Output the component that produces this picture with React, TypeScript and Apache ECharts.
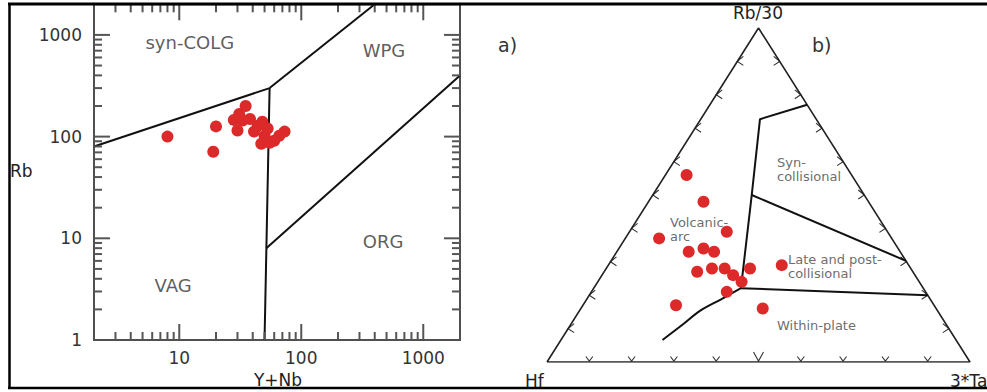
import React, { useEffect, useRef } from 'react';
import * as echarts from 'echarts';

const FONT = '"DejaVu Sans", "Liberation Sans", sans-serif';
const RED = '#dc2a2a';
const AXIS = '#505050';
const TICK = '#555555';
const LINE = '#111111';

// ---------- Left panel: Rb vs Y+Nb (log-log) ----------
const X_MIN = 2;
const X_MAX = 2000;
const Y_MIN = 1;
const Y_MAX = 2000;

const yNbValues = [8, 20, 19, 35, 31, 28, 38, 30, 33, 48, 41, 50, 55, 47, 66, 73, 60, 53, 44];
const rbValues = [100, 126, 71, 200, 167, 146, 149, 115, 144, 140, 112, 102, 87, 85, 102, 112, 91, 120, 128];

const xTickValues = [3, 4, 5, 6, 7, 8, 9, 10, 20, 30, 40, 50, 60, 70, 80, 90, 100, 200, 300, 400, 500, 600, 700, 800, 900, 1000];
const yTickValues = [2, 3, 4, 5, 6, 7, 8, 9, 10, 20, 30, 40, 50, 60, 70, 80, 90, 100, 200, 300, 400, 500, 600, 700, 800, 900, 1000];
const xLabelValues = [10, 100, 1000];
const yLabelValues = [1, 10, 100, 1000];

const vagSyncolgLine = [[2, 80], [55, 300]];
const syncolgWpgLine = [[55, 300], [400, 2000]];
const vagWpgLine = [[50, 1], [55, 300]];
const wpgOrgLine = [[51.7, 8], [2000, 400]];

const leftFieldNames = ['syn-COLG', 'WPG', 'ORG', 'VAG'];
const leftFieldX = [12.2, 476, 468, 8.9];
const leftFieldY = [833, 695, 9.2, 3.4];

// ---------- Right panel: ternary Hf - Rb/30 - 3*Ta ----------
const hfValues = [39, 39, 38, 55, 50, 46, 44, 51, 47, 44, 43, 42, 47, 38, 30, 61, 41];
const rb30Values = [56, 48, 39, 37, 33, 34, 33, 27, 28, 28, 26, 24, 21, 28, 29, 17, 16];
const ta3Values = [5, 13, 23, 8, 17, 20, 23, 22, 25, 28, 31, 34, 32, 34, 41, 22, 43];

const ternTickFractions = [0.1, 0.2, 0.3, 0.4, 0.5, 0.6, 0.7, 0.8, 0.9];

// boundaries as [Hf, Rb/30, 3*Ta]
const triangleOutline = [[100, 0, 0], [0, 0, 100], [0, 100, 0], [100, 0, 0]];
const synColBoundary = [[0, 77, 23], [13.3, 72.7, 14], [26.6, 50, 23.4], [43.1, 22.1, 34.8]];
const lateBoundary = [[26.6, 50, 23.4], [0, 30.3, 69.7]];
const withinBoundary = [[43.1, 22.1, 34.8], [0, 20, 80]];
const vaWpBoundary = [[69.4, 6.6, 24], [62.7, 10.9, 26.3], [56.2, 15.3, 28.5], [49.6, 18.7, 31.7], [43.1, 22.1, 34.8]];

const rightFieldNames = ['Syn-\ncollisional', 'Volcanic-\narc', 'Late and post-\ncollisional', 'Within-plate'];
const rightFieldX = [0.5437, 0.2908, 0.5697, 0.5437];
const rightFieldY = [0.5778, 0.398, 0.2874, 0.1078];

const tern = (h: number, r: number, t: number): number[] => {
  const s = h + r + t;
  return [(t + r / 2) / s, r / s];
};
const ternLine = (pts: number[][]) => pts.map((p) => tern(p[0], p[1], p[2]));

const isMajor = (v: number) => Math.abs(Math.log10(v) - Math.round(Math.log10(v))) < 1e-9;

const logLabel = (allowed: number[]) => (v: number) => {
  const r = Math.round(v);
  return allowed.includes(r) && Math.abs(v - r) < 1e-6 * Math.max(1, r) ? String(r) : '';
};

// tick items for the left frame: [x, y, side]; side 0 bottom, 1 top, 2 left, 3 right
const leftTickItems: number[][] = [
  ...xTickValues.map((v) => [v, Y_MIN, 0]),
  ...xTickValues.map((v) => [v, Y_MAX, 1]),
  ...yTickValues.map((v) => [X_MIN, v, 2]),
  ...yTickValues.map((v) => [X_MAX, v, 3]),
];

export default function App() {
  const ref = useRef<HTMLDivElement>(null);

  useEffect(() => {
    if (!ref.current) return;
    const chart = echarts.init(ref.current, undefined, { renderer: 'svg' });

    const boundaryLine = (data: number[][], xi: number, smooth = false) => ({
      type: 'line', xAxisIndex: xi, yAxisIndex: xi, data, symbol: 'none',
      smooth: smooth ? 0.3 : false, silent: true, lineStyle: { color: LINE, width: 2 }, z: 3,
    });

    const tickSeries = {
      type: 'custom', xAxisIndex: 0, yAxisIndex: 0, silent: true, z: 4, clip: false,
      data: leftTickItems.map((t) => [t[0], t[1]]),
      renderItem: (params: any, api: any) => {
        const item = leftTickItems[params.dataIndex];
        const side = item[2];
        const v = side < 2 ? item[0] : item[1];
        const len = isMajor(v) ? 16 : 8;
        const p = api.coord([item[0], item[1]]);
        const pts = side === 0 ? [[p[0], p[1]], [p[0], p[1] - len]]
          : side === 1 ? [[p[0], p[1]], [p[0], p[1] + len]]
          : side === 2 ? [[p[0], p[1]], [p[0] + len, p[1]]]
          : [[p[0], p[1]], [p[0] - len, p[1]]];
        return { type: 'polyline', shape: { points: pts }, style: { stroke: TICK, lineWidth: 2, fill: 'none' } };
      },
    };

    const option: any = {
      animation: false,
      textStyle: { fontFamily: FONT },
      grid: [
        { left: 94, top: 4.3, width: 366, height: 335.7, show: true, borderColor: AXIS, borderWidth: 2, backgroundColor: 'transparent', containLabel: false, outerBoundsMode: 'none' },
        { left: 547, top: 28, right: 17, bottom: 30, containLabel: false, outerBoundsMode: 'none' },
      ],
      xAxis: [
        {
          gridIndex: 0, type: 'log', logBase: 10, min: X_MIN, max: X_MAX,
          axisLine: { show: false }, axisTick: { show: false }, splitLine: { show: false },
          axisLabel: { margin: 9, fontSize: 17, color: '#333', fontFamily: FONT, formatter: logLabel(xLabelValues) },
        },
        { gridIndex: 1, type: 'value', min: 0, max: 1, show: false },
      ],
      yAxis: [
        {
          gridIndex: 0, type: 'log', logBase: 10, min: Y_MIN, max: Y_MAX,
          axisLine: { show: false }, axisTick: { show: false }, splitLine: { show: false },
          axisLabel: { margin: 12, fontSize: 17, color: '#333', fontFamily: FONT, formatter: logLabel(yLabelValues) },
        },
        { gridIndex: 1, type: 'value', min: 0, max: 1, show: false },
      ],
      series: [
        boundaryLine(vagSyncolgLine, 0),
        boundaryLine(syncolgWpgLine, 0),
        boundaryLine(vagWpgLine, 0),
        boundaryLine(wpgOrgLine, 0),
        {
          type: 'scatter', xAxisIndex: 0, yAxisIndex: 0, silent: true, z: 5,
          symbolSize: 12, itemStyle: { color: RED, opacity: 1 },
          data: yNbValues.map((x, i) => [x, rbValues[i]]),
        },
        {
          type: 'scatter', xAxisIndex: 0, yAxisIndex: 0, silent: true, z: 6,
          symbolSize: 1, itemStyle: { color: 'transparent' },
          label: { show: true, position: 'inside', formatter: '{b}', fontSize: 18, color: '#333', fontFamily: FONT },
          data: leftFieldNames.map((n, i) => ({ name: n, value: [leftFieldX[i], leftFieldY[i]] })),
        },
        tickSeries,
        // right: triangle
        {
          type: 'line', xAxisIndex: 1, yAxisIndex: 1, silent: true, symbol: 'none', z: 3,
          data: ternLine(triangleOutline), lineStyle: { color: '#222', width: 1.6 },
        },
        // right: chevron ticks
        {
          type: 'custom', xAxisIndex: 1, yAxisIndex: 1, silent: true, z: 3,
          data: [0, 1, 2].flatMap((side) => ternTickFractions.map((f) => [side, f])),
          renderItem: (params: any, api: any) => {
            const side = api.value(0);
            const f = api.value(1);
            let pt: number[];
            let pts: number[][];
            if (side === 0) {
              pt = api.coord([f, 0]);
              const big = Math.abs(f - 0.5) < 1e-6;
              const w = big ? 5 : 3.5;
              const h = big ? 9 : 4.5;
              pts = [[pt[0] - w, pt[1] - h - 1], [pt[0], pt[1] - 1], [pt[0] + w, pt[1] - h - 1]];
            } else if (side === 1) {
              pt = api.coord([f / 2, f]);
              pts = [[pt[0] + 6, pt[1] - 5], [pt[0], pt[1]], [pt[0] + 6, pt[1] + 4]];
            } else {
              pt = api.coord([1 - f / 2, f]);
              pts = [[pt[0] - 6, pt[1] - 5], [pt[0], pt[1]], [pt[0] - 6, pt[1] + 4]];
            }
            return { type: 'polyline', shape: { points: pts }, style: { stroke: '#333', lineWidth: 1.1, fill: 'none' } };
          },
        },
        boundaryLine(ternLine(synColBoundary), 1),
        boundaryLine(ternLine(lateBoundary), 1),
        boundaryLine(ternLine(withinBoundary), 1),
        boundaryLine(ternLine(vaWpBoundary), 1, true),
        {
          type: 'scatter', xAxisIndex: 1, yAxisIndex: 1, silent: true, z: 5,
          symbolSize: 12, itemStyle: { color: RED, opacity: 1 },
          data: hfValues.map((h, i) => tern(h, rb30Values[i], ta3Values[i])),
        },
        {
          type: 'scatter', xAxisIndex: 1, yAxisIndex: 1, silent: true, z: 6,
          symbolSize: 1, itemStyle: { color: 'transparent' },
          label: { show: true, position: 'inside', align: 'left', verticalAlign: 'middle', formatter: '{b}', fontSize: 13, lineHeight: 14, color: '#454545', fontFamily: FONT },
          data: rightFieldNames.map((n, i) => ({ name: n, value: [rightFieldX[i], rightFieldY[i]] })),
        },
      ],
      graphic: [
        { type: 'text', left: 10, top: 162, style: { text: 'Rb', fontSize: 17, fill: '#222', fontFamily: FONT }, z: 50 },
        { type: 'text', x: 278, y: 380, style: { text: 'Y+Nb', fontSize: 17, fill: '#222', fontFamily: FONT, align: 'center', verticalAlign: 'middle' }, z: 50 },
        { type: 'text', x: 498, y: 45, style: { text: 'a)', fontSize: 19, fill: '#333', fontFamily: FONT, align: 'left', verticalAlign: 'middle' }, z: 50 },
        { type: 'text', x: 812, y: 45, style: { text: 'b)', fontSize: 19, fill: '#333', fontFamily: FONT, align: 'left', verticalAlign: 'middle' }, z: 50 },
        { type: 'text', x: 758, y: 13, style: { text: 'Rb/30', fontSize: 17, fill: '#222', fontFamily: FONT, align: 'center', verticalAlign: 'middle' }, z: 50 },
        { type: 'text', x: 525, y: 381, style: { text: 'Hf', fontSize: 17, fill: '#222', fontFamily: FONT, align: 'left', verticalAlign: 'middle' }, z: 50 },
        { type: 'text', x: 950, y: 381, style: { text: '3*Ta', fontSize: 17, fill: '#222', fontFamily: FONT, align: 'left', verticalAlign: 'middle' }, z: 50 },
        { type: 'line', shape: { x1: 8, y1: 4, x2: 987, y2: 4 }, style: { stroke: '#000', lineWidth: 3 }, z: 100 },
        { type: 'line', shape: { x1: 9.5, y1: 3, x2: 9.5, y2: 389 }, style: { stroke: '#000', lineWidth: 2.5 }, z: 100 },
        { type: 'line', shape: { x1: 8, y1: 388, x2: 987, y2: 388 }, style: { stroke: '#000', lineWidth: 2.5 }, z: 100 },
      ],
    };

    chart.setOption(option);
    return () => chart.dispose();
  }, []);

  return (
    <div
      ref={ref}
      style={{ position: 'absolute', left: 0, top: 0, width: 987, height: 392, background: '#fff' }}
    />
  );
}
